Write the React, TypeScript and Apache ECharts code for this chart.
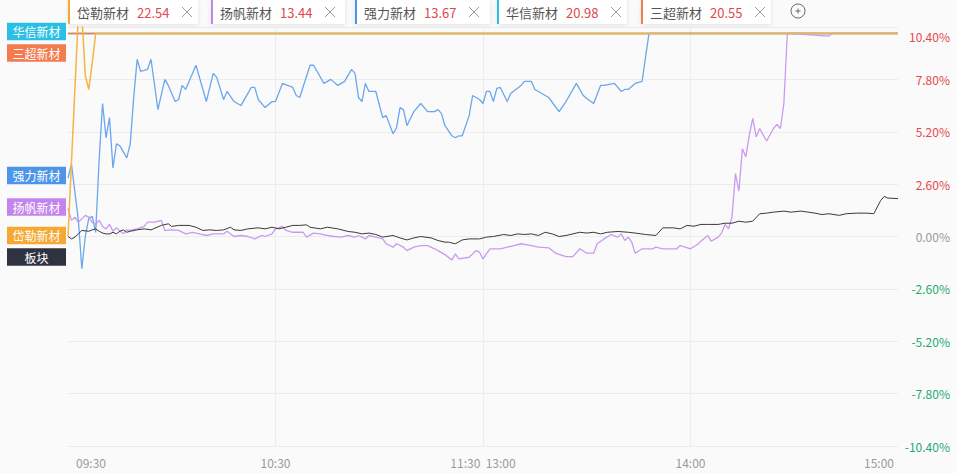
import React, { useEffect, useRef } from "react";
import * as echarts from "echarts";

// ---- data ----
const timeLabels = ["09:30", "10:30", "11:30  13:00", "14:00", "15:00"];

const legendNames = ["岱勒新材", "扬帆新材", "强力新材", "华信新材", "三超新材"];
const legendPrices = ["22.54", "13.44", "13.67", "20.98", "20.55"];

const sideLabels = ["华信新材", "三超新材", "强力新材", "扬帆新材", "岱勒新材", "板块"];

const huaxinMinutes = [0, 240];
const huaxinValues = [10.08, 10.08];

const sanchaoMinutes = [0, 240];
const sanchaoValues = [10.08, 10.08];

const dailerMinutes = [0, 3, 4, 5, 6, 7, 8, 240];
const dailerValues = [0.0, 11.0, 11.0, 8.0, 7.3, 8.6, 10.08, 10.08];

const qiangliMinutes = [0,1,3,4,5,6,7,8,9,10,11,12,13,14,15,17,18,19,20,21,23,24,26,28,29,31,32,33,34,37,40,42,43,45,46,48,50,53,54,55,57,59,60,62,65,66,67,70,71,74,76,78,80,82,83,84,85,86,87,89,91,92,94,95,96,97,98,100,102,104,106,107,108,109,111,112,113,114,116,117,119,120,121,122,123,124,125,127,128,131,132,134,135,137,139,142,144,147,149,150,152,154,155,158,160,161,162,164,166,168,240];
const qiangliValues = [2.9,3.6,0.8,-1.6,0.0,0.9,1.0,0.2,3.8,6.6,4.9,5.9,3.4,4.6,4.5,3.9,4.6,6.9,8.8,8.2,8.3,8.8,6.3,7.8,7.5,6.7,6.8,7.5,7.3,8.5,6.7,8.1,7.9,6.8,7.2,6.7,6.5,7.4,7.4,6.8,6.4,6.7,6.7,7.6,7.4,7.0,6.9,8.5,8.5,7.6,7.8,7.5,7.7,8.3,8.1,6.9,6.7,7.6,7.2,7.2,5.9,6.0,5.1,5.4,6.4,6.3,5.5,6.2,6.6,6.2,6.2,6.3,6.1,5.5,5.0,4.9,5.0,5.0,6.0,7.0,6.8,6.6,7.2,7.2,6.7,7.35,7.4,6.7,7.1,7.5,7.7,7.7,7.3,7.1,6.9,6.2,6.7,7.6,7.0,6.85,6.6,7.5,7.5,7.6,7.2,7.3,7.3,7.6,7.7,10.08,10.08];

const yangfanMinutes = [0,1,2,3,5,6,7,8,9,10,11,12,13,14,16,17,18,20,22,23,25,27,28,30,32,34,36,38,40,42,45,46,48,50,52,54,56,57,59,60,62,63,65,68,69,71,73,75,77,79,81,83,84,86,87,89,91,92,94,95,97,98,100,102,104,106,107,109,111,112,113,116,118,119,120,122,125,127,129,131,134,136,139,141,144,146,148,150,152,153,155,157,159,160,161,162,163,164,166,169,170,172,176,177,178,180,182,183,185,186,188,189,190,191,192,193,194,195,196,197,198,199,200,202,204,205,206,207,208,220,221,240];
const yangfanValues = [1.4,0.8,0.96,0.7,1.05,0.96,0.7,0.6,0.8,0.5,0.38,0.6,0.26,0.43,0.13,0.33,0.3,0.38,0.5,0.71,0.71,0.8,0.3,0.33,0.3,0.13,0.21,0.13,0.05,0.13,0.13,0.26,0.0,0.05,0.0,-0.12,0.05,0.0,0.13,0.38,0.5,0.3,0.21,0.21,-0.03,0.17,0.13,0.05,0.0,-0.03,0.05,-0.03,0.05,-0.12,0.05,-0.03,-0.12,-0.36,-0.53,-0.36,-0.53,-0.7,-0.53,-0.45,-0.45,-0.61,-0.7,-0.9,-1.16,-0.86,-1.11,-1.03,-0.7,-0.78,-1.11,-0.61,-0.61,-0.53,-0.45,-0.36,-0.45,-0.53,-0.56,-0.83,-1.0,-1.0,-0.61,-0.83,-0.83,-0.36,-0.12,0.1,-0.03,0.13,-0.2,-0.03,-0.28,-0.83,-0.61,-0.61,-0.53,-0.61,-0.61,-0.45,-0.5,-0.61,-0.4,-0.23,0.05,-0.23,-0.03,0.17,0.6,0.38,0.96,3.12,2.25,4.36,3.95,5.03,5.86,4.94,5.36,4.74,5.36,5.57,5.36,6.6,10.08,9.95,10.08,10.08];

const bankuaiMinutes = [0,1,2,3,4,6,7,8,9,10,11,12,13,14,15,16,17,18,20,22,24,27,29,30,32,35,37,39,41,43,45,47,48,50,52,55,57,59,61,63,65,67,69,70,73,75,78,81,83,85,87,89,91,94,96,98,100,102,105,107,109,110,112,114,116,119,121,123,126,128,130,132,134,136,138,140,142,144,146,148,150,152,154,156,159,162,164,167,170,172,175,177,179,181,183,185,188,190,192,194,196,198,200,202,204,207,209,212,214,216,218,220,223,225,228,231,233,235,236,237,240];
const bankuaiValues = [0.0,-0.12,-0.03,0.13,0.3,0.26,0.33,0.38,0.26,0.17,0.13,0.13,0.21,0.13,0.26,0.33,0.21,0.26,0.33,0.38,0.33,0.55,0.63,0.5,0.55,0.55,0.46,0.3,0.33,0.3,0.33,0.46,0.33,0.3,0.38,0.43,0.38,0.46,0.38,0.46,0.55,0.55,0.58,0.46,0.38,0.46,0.38,0.25,0.21,0.13,0.17,0.1,-0.03,0.05,-0.07,-0.17,-0.07,0.0,-0.07,-0.2,-0.28,-0.28,-0.36,-0.17,-0.12,-0.12,-0.03,0.0,0.1,0.05,0.13,0.1,0.13,0.05,0.21,0.13,0.0,0.05,0.13,0.21,0.17,0.21,0.13,0.21,0.25,0.21,0.17,0.1,0.05,0.43,0.43,0.38,0.55,0.51,0.6,0.6,0.6,0.66,0.66,0.76,0.71,0.76,1.13,1.16,1.21,1.26,1.21,1.26,1.21,1.16,1.09,1.13,1.05,1.13,1.16,1.16,1.13,1.79,1.99,1.91,1.88];

// ---- styles ----
const FONT = '"Microsoft YaHei", "Noto Sans CJK SC", sans-serif';
const C = {
  huaxin: "#2bbfe6",
  sanchao: "#f47b4f",
  qiangliLine: "#6aa7ec",
  qiangli: "#4d95e8",
  yangfanLine: "#c99bef",
  yangfan: "#c285ec",
  dailerLine: "#f6b442",
  dailer: "#f5a833",
  bankuaiLine: "#3a3a3a",
  bankuai: "#2f3241",
};
const legendColors = [C.dailer, C.yangfan, C.qiangli, C.huaxin, C.sanchao];
const legendBoxX = [68, 211, 355, 497, 641];
const legendBoxW = [130, 134, 135, 130, 130];
const sideColors = [C.huaxin, C.sanchao, C.qiangli, C.yangfan, C.dailer, C.bankuai];
const sideCenters = [31.5, 53, 175.5, 207, 235.5, 257];

const pairs = (m: number[], v: number[]) => m.map((x, i) => [x, v[i]]);

function buildGraphic() {
  const els: any[] = [];
  legendNames.forEach((name, i) => {
    const x = legendBoxX[i];
    const w = legendBoxW[i];
    els.push({
      type: "rect",
      shape: { x, y: 0, width: w, height: 24 },
      style: { fill: "#ffffff", shadowBlur: 4, shadowColor: "rgba(0,0,0,0.10)", shadowOffsetY: 1 },
      z: 100,
    });
    els.push({ type: "rect", shape: { x, y: 0, width: 2, height: 24 }, style: { fill: legendColors[i] }, z: 101 });
    els.push({
      type: "text",
      z: 101,
      style: { text: name, x: x + 9, y: 12.5, fill: "#555", font: `13px ${FONT}`, align: "left", verticalAlign: "middle" },
    });
    els.push({
      type: "text",
      z: 101,
      style: { text: legendPrices[i], x: x + 69, y: 12.5, fill: "#e0474c", font: `13px ${FONT}`, align: "left", verticalAlign: "middle" },
    });
    els.push({ type: "line", z: 101, shape: { x1: x + 114, y1: 7, x2: x + 124, y2: 17 }, style: { stroke: "#9a9a9a", lineWidth: 1 } });
    els.push({ type: "line", z: 101, shape: { x1: x + 124, y1: 7, x2: x + 114, y2: 17 }, style: { stroke: "#9a9a9a", lineWidth: 1 } });
  });
  els.push({ type: "circle", z: 101, shape: { cx: 798, cy: 11, r: 7 }, style: { fill: "none", stroke: "#666", lineWidth: 1 } });
  els.push({ type: "line", z: 101, shape: { x1: 795.5, y1: 11, x2: 800.5, y2: 11 }, style: { stroke: "#666", lineWidth: 1 } });
  els.push({ type: "line", z: 101, shape: { x1: 798, y1: 8.5, x2: 798, y2: 13.5 }, style: { stroke: "#666", lineWidth: 1 } });

  sideLabels.forEach((name, i) => {
    const cy = sideCenters[i];
    els.push({ type: "rect", z: 100, shape: { x: 7, y: cy - 8.75, width: 59, height: 17.5 }, style: { fill: sideColors[i] } });
    els.push({
      type: "text",
      z: 101,
      style: { text: name, x: 36.5, y: cy, fill: "#ffffff", font: `12px ${FONT}`, align: "center", verticalAlign: "middle" },
    });
  });
  return els;
}

export default function App() {
  const ref = useRef<HTMLDivElement>(null);
  useEffect(() => {
    if (!ref.current) return;
    const chart = echarts.init(ref.current, null, { renderer: "svg" });
    const mkLine = (name: string, m: number[], v: number[], color: string, width: number) => ({
      name,
      type: "line",
      data: pairs(m, v),
      showSymbol: false,
      symbol: "none",
      clip: true,
      silent: true,
      lineStyle: { color, width },
      itemStyle: { color },
    });
    chart.setOption({
      animation: false,
      backgroundColor: "#fafafa",
      textStyle: { fontFamily: FONT },
      grid: { left: 68, right: 59, top: 27, bottom: 27, containLabel: false },
      xAxis: {
        type: "value",
        min: 0,
        max: 240,
        interval: 60,
        axisLine: { show: false },
        axisTick: { show: false },
        splitLine: { show: true, showMinLine: false, showMaxLine: false, lineStyle: { color: "#ececec", width: 1 } },
        axisLabel: {
          show: true,
          showMinLabel: true,
          showMaxLabel: true,
          margin: 10,
          color: "#999",
          fontSize: 12,
          fontFamily: FONT,
          formatter: (v: number) => {
            const i = Math.round(v / 60);
            const t = timeLabels[i] ?? "";
            if (i === 0) return `{first|${t}}`;
            if (i === timeLabels.length - 1) return `{last|${t}}`;
            return t;
          },
          rich: {
            first: { padding: [0, 0, 0, 46], color: "#999", fontSize: 12, fontFamily: FONT },
            last: { padding: [0, 38, 0, 0], color: "#999", fontSize: 12, fontFamily: FONT },
          },
        },
      },
      yAxis: {
        type: "value",
        position: "right",
        min: -10.4,
        max: 10.4,
        interval: 2.6,
        axisLine: { show: false },
        axisTick: { show: false },
        splitLine: { show: true, lineStyle: { color: "#ececec", width: 1 } },
        axisLabel: {
          margin: 52,
          align: "right",
          fontSize: 12,
          fontFamily: FONT,
          showMinLabel: true,
          showMaxLabel: true,
          color: (val: any) => {
            const n = Number(val);
            if (n > 1e-6) return "#e5474b";
            if (n < -1e-6) return "#1daa6f";
            return "#999";
          },
          formatter: (v: number) => {
            const n = Math.abs(v) < 1e-6 ? 0 : v;
            const s = n.toFixed(2) + "%";
            if (n > 10.3) return `{top|${s}}`;
            return s;
          },
          rich: {
            top: { padding: [18, 0, 0, 0], color: "#e5474b", fontSize: 12, fontFamily: FONT },
          },
        },
      },
      series: [
        mkLine("华信新材", huaxinMinutes, huaxinValues, C.huaxin, 1.5),
        mkLine("三超新材", sanchaoMinutes, sanchaoValues, C.sanchao, 1.5),
        mkLine("强力新材", qiangliMinutes, qiangliValues, C.qiangliLine, 1.3),
        mkLine("扬帆新材", yangfanMinutes, yangfanValues, C.yangfanLine, 1.3),
        mkLine("岱勒新材", dailerMinutes, dailerValues, C.dailerLine, 1.5),
        mkLine("板块", bankuaiMinutes, bankuaiValues, C.bankuaiLine, 1),
      ],
      graphic: buildGraphic(),
    });
    return () => chart.dispose();
  }, []);
  return (
    <div
      ref={ref}
      style={{ position: "fixed", left: 0, top: 0, width: 957, height: 473, background: "#fafafa" }}
    />
  );
}
